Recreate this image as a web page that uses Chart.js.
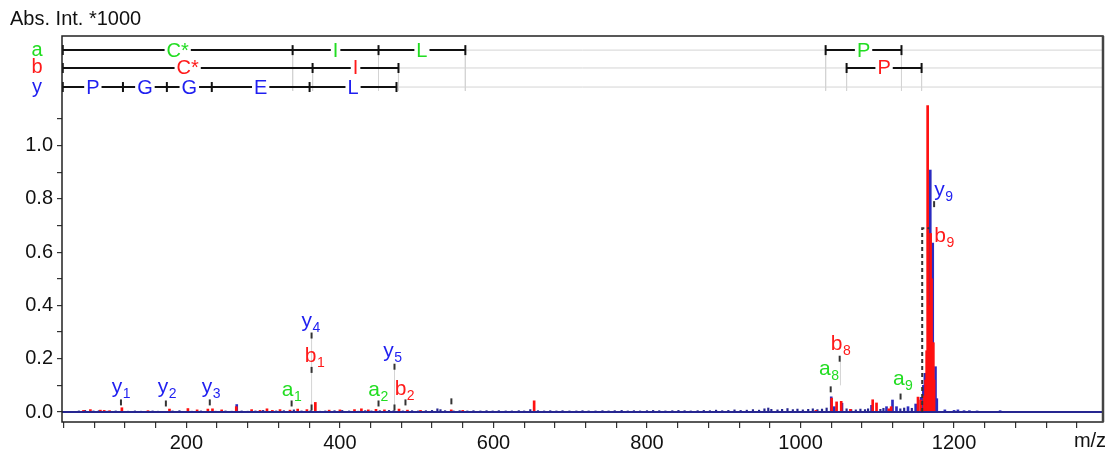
<!DOCTYPE html>
<html>
<head>
<meta charset="utf-8">
<script src="https://cdn.jsdelivr.net/npm/chart.js@4.4.0/dist/chart.umd.min.js"></script>
<style>
html, body { margin: 0; padding: 0; background: #fff; }
</style>
</head>
<body>
<canvas id="spectrum" width="1110" height="450"></canvas>
<script>
// axis ticks
var xTicks = [40, 80, 120, 160, 200, 240, 280, 320, 360, 400, 440, 480, 520, 560, 600, 640, 680, 720,
    760, 800, 840, 880, 920, 960, 1000, 1040, 1080, 1120, 1160, 1200, 1240, 1280, 1320, 1360];
var xTickLabels = ["200", "400", "600", "800", "1000", "1200"];
var yTicks = [0, 0.1, 0.2, 0.3, 0.4, 0.5, 0.6, 0.7, 0.8, 0.9, 1.0, 1.1];
var yTickLabels = ["0.0", "0.2", "0.4", "0.6", "0.8", "1.0"];

// peak list (red sticks) [m/z, intensity]
var redPeaks = [
    [66, 0.006], [75, 0.009], [88, 0.007], [93, 0.006], [100, 0.005], [116, 0.016], [150, 0.005],
    [178, 0.011], [202, 0.013], [214, 0.008], [228, 0.011], [234, 0.012], [246, 0.008], [265, 0.02],
    [285, 0.009], [296, 0.006], [305, 0.012], [312, 0.006], [322, 0.009], [335, 0.007], [345, 0.011],
    [357, 0.009], [368, 0.036], [386, 0.007], [400, 0.008], [419, 0.009], [428, 0.012], [437, 0.008],
    [447, 0.01], [458, 0.008], [477, 0.011], [488, 0.007], [505, 0.006], [545, 0.008], [560, 0.006],
    [653, 0.042], [1020, 0.006], [1040.5, 0.052], [1047, 0.038], [1053, 0.04], [1065, 0.01],
    [1094, 0.046], [1099, 0.034], [1115, 0.012], [1118, 0.02], [1153, 0.056], [1156.5, 0.045],
    [1161, 0.06], [1162.8, 0.12], [1164.3, 0.23], [1165.6, 1.15], [1167.8, 0.4], [1169.4, 0.67],
    [1170.6, 0.5], [1171.8, 0.26], [1173, 0.26], [1174, 0.12]
];

// profile maxima (blue)
var bluePeaks = [
    [265.6, 0.028], [1040, 0.057], [1044, 0.02], [1054, 0.033], [1092.5, 0.025], [1112, 0.02],
    [1119.8, 0.045], [1125, 0.02], [1140, 0.02], [1150, 0.03], [1157, 0.055], [1160, 0.1],
    [1162, 0.145], [1166.7, 0.6], [1169, 0.908], [1172.2, 0.634], [1175.8, 0.17], [1177.5, 0.05],
    [1188, 0.008], [1200, 0.006], [1205, 0.008], [1213, 0.005], [1220, 0.005], [1230, 0.004], [1260, 0.005]
];

// baseline noise of the profile
var noisePeaks = [
    [60, 0.004], [68, 0.006], [79, 0.004], [86, 0.005], [97, 0.003], [108, 0.004], [124, 0.003],
    [133, 0.004], [141, 0.003], [156, 0.004], [163, 0.003], [182, 0.004], [191, 0.005], [207, 0.003],
    [219, 0.004], [238, 0.003], [251, 0.004], [259, 0.003], [272, 0.004], [280, 0.003], [290, 0.004],
    [300, 0.006], [317, 0.004], [327, 0.005], [340, 0.008], [350, 0.004], [362, 0.005], [374, 0.003],
    [381, 0.004], [393, 0.005], [403, 0.006], [412, 0.004], [424, 0.003], [433, 0.005], [441, 0.004],
    [452, 0.005], [464, 0.006], [470, 0.005], [482, 0.004], [494, 0.005], [502, 0.004], [512, 0.005],
    [520, 0.006], [527, 0.012], [531, 0.009], [537, 0.005], [548, 0.004], [556, 0.005], [566, 0.004],
    [574, 0.005], [583, 0.004], [591, 0.005], [599, 0.004], [607, 0.005], [616, 0.004], [624, 0.004],
    [633, 0.005], [640, 0.004], [648, 0.009], [658, 0.005], [666, 0.004], [674, 0.005], [682, 0.004],
    [690, 0.005], [699, 0.004], [708, 0.004], [716, 0.005], [724, 0.004], [733, 0.004], [742, 0.005],
    [750, 0.004], [758, 0.005], [767, 0.006], [775, 0.004], [783, 0.005], [791, 0.004], [800, 0.005],
    [808, 0.006], [816, 0.005], [824, 0.004], [833, 0.005], [841, 0.006], [849, 0.005], [857, 0.004],
    [866, 0.005], [874, 0.006], [882, 0.005], [890, 0.007], [898, 0.005], [906, 0.006], [914, 0.008],
    [922, 0.006], [930, 0.007], [938, 0.009], [946, 0.007], [953, 0.012], [958, 0.015], [962, 0.01],
    [970, 0.008], [976, 0.01], [983, 0.013], [990, 0.009], [996, 0.011], [1003, 0.008], [1010, 0.01],
    [1016, 0.012], [1022, 0.009], [1028, 0.011], [1034, 0.015], [1060, 0.012], [1066, 0.009],
    [1072, 0.008], [1078, 0.011], [1084, 0.009], [1088, 0.012], [1104, 0.01], [1108, 0.014],
    [1130, 0.012], [1135, 0.015], [1145, 0.014], [1152, 0.02]
];

// ion labels: [series, number, m/z, label height]
var ionLabels = [
    ["y", "1", 114.8, 0.071], ["y", "2", 174.6, 0.071], ["y", "3", 231.8, 0.071],
    ["a", "1", 337, 0.06], ["b", "1", 367, 0.188], ["y", "4", 362, 0.319],
    ["a", "2", 449.7, 0.06], ["y", "5", 468.5, 0.206], ["b", "2", 484, 0.064],
    ["a", "8", 1036.7, 0.139], ["b", "8", 1052, 0.233], ["a", "9", 1133, 0.101],
    ["y", "9", 1186, 0.81], ["b", "9", 1187, 0.638]
];
// small black marks above matched peaks [m/z, height]
var ionMarks = [
    [114.8, 0.036], [173.3, 0.032], [230.5, 0.036], [337.1, 0.032], [363.1, 0.158], [363.1, 0.017],
    [363.1, 0.287], [450.3, 0.032], [471.1, 0.17], [471.1, 0.017], [485.4, 0.036], [545.2, 0.04],
    [1039.3, 0.085], [1051, 0.2], [1130.3, 0.058], [1174, 0.78]
];
// thin grey connectors [m/z, from, to]
var ionGuides = [[363.1, 0, 0.278], [471.1, 0, 0.161], [1052, 0.1, 0.19]];
// dashed link of b9
var b9Link = [[1158.5, 0], [1158.5, 0.69], [1168, 0.69]];

// sequence ladders: [from m/z, to m/z, residue]
var ladderA = [[39, 338.4, "C*"], [338.4, 450.3, "I"], [450.3, 563.4, "L"], [1032.7, 1131.5, "P"]];
var ladderB = [[39, 364.4, "C*"], [364.4, 476.3, "I"], [1060, 1157.7, "P"]];
var ladderY = [[39, 117.4, "P"], [117.4, 174.6, "G"], [174.6, 233.1, "G"], [233.1, 360.5, "E"], [360.5, 473.7, "L"]];

var ROW_A = 1.358, ROW_B = 1.291, ROW_Y = 1.2195, GUIDE_END = 1.205;
var X_MIN = 38, X_MAX = 1394, Y_MIN = -0.0375, Y_MAX = 1.411;
var COL_A = "#22dd22", COL_B = "#ff1a1a", COL_Y = "#1f1ff0", NAVY = "#262690";
var FONT = "'Liberation Sans', Arial, sans-serif";

function xy(list) {
    return list.map(function(p) { return { x: p[0], y: p[1] }; });
}

function ladderPoints(segs, row) {
    var pts = [], prevEnd = null;
    segs.forEach(function(s) {
        if (prevEnd !== null && s[0] !== prevEnd) pts.push({ x: (prevEnd + s[0]) / 2, y: null });
        if (prevEnd === null || s[0] !== prevEnd) pts.push({ x: s[0], y: row });
        pts.push({ x: s[1], y: row });
        prevEnd = s[1];
    });
    return pts;
}

// light grey lines of the ladder area and label connectors
var greyPts = [];
[[ROW_A, ladderA], [ROW_B, ladderB], [ROW_Y, ladderY]].forEach(function(r) {
    greyPts.push({ x: X_MIN, y: r[0] }, { x: X_MAX, y: r[0] }, { x: X_MAX, y: null });
    r[1].forEach(function(s) {
        [s[0], s[1]].forEach(function(v) {
            if (v > X_MIN + 5) greyPts.push({ x: v, y: r[0] }, { x: v, y: GUIDE_END }, { x: v, y: null });
        });
    });
});
ionGuides.forEach(function(g) {
    greyPts.push({ x: g[0], y: g[1] }, { x: g[0], y: g[2] }, { x: g[0], y: null });
});

function ladderSet(segs, row) {
    return {
        type: "line", data: ladderPoints(segs, row), borderColor: "#111", borderWidth: 2,
        spanGaps: false, pointStyle: "line", pointRotation: 90, pointRadius: 5,
        pointBorderWidth: 2, pointBorderColor: "#111", order: 1
    };
}

var annotate = {
    id: "annotate",
    afterDatasetsDraw: function(chart) {
        var ctx = chart.ctx, xs = chart.scales.x, ys = chart.scales.y, ca = chart.chartArea;
        ctx.save();
        // frame
        ctx.strokeStyle = "#222";
        ctx.lineWidth = 1.5;
        ctx.strokeRect(ca.left, ca.top, ca.right - ca.left, ca.bottom - ca.top);
        ctx.strokeStyle = "#444";
        ctx.lineWidth = 2.5;
        ctx.beginPath();
        ctx.moveTo(ca.right, ca.top);
        ctx.lineTo(ca.right, ca.bottom);
        ctx.stroke();

        // residue letters on the ladders
        ctx.font = "20px " + FONT;
        ctx.textAlign = "center";
        ctx.textBaseline = "middle";
        [[ladderA, ROW_A, COL_A], [ladderB, ROW_B, COL_B], [ladderY, ROW_Y, COL_Y]].forEach(function(l) {
            var py = ys.getPixelForValue(l[1]);
            l[0].forEach(function(s) {
                var px = xs.getPixelForValue((s[0] + s[1]) / 2);
                var w = ctx.measureText(s[2]).width;
                ctx.fillStyle = "#fff";
                ctx.fillRect(px - w / 2 - 2, py - 8, w + 4, 16);
                ctx.fillStyle = l[2];
                ctx.fillText(s[2], px, py + 1);
            });
        });

        // ion labels
        var colors = { a: COL_A, b: COL_B, y: COL_Y };
        ctx.textAlign = "left";
        ctx.textBaseline = "alphabetic";
        ionLabels.forEach(function(l) {
            ctx.font = "21px " + FONT;
            var wm = ctx.measureText(l[0]).width;
            ctx.font = "14px " + FONT;
            var ws = ctx.measureText(l[1]).width;
            var x0 = xs.getPixelForValue(l[2]) - (wm + ws) / 2;
            var y0 = ys.getPixelForValue(l[3]);
            ctx.fillStyle = colors[l[0]];
            ctx.font = "21px " + FONT;
            ctx.fillText(l[0], x0, y0);
            ctx.font = "14px " + FONT;
            ctx.fillText(l[1], x0 + wm + 0.5, y0 + 5);
        });
        ctx.restore();
    },
    afterDraw: function(chart) {
        var ctx = chart.ctx;
        ctx.save();
        ctx.fillStyle = "#111";
        ctx.font = "20px " + FONT;
        ctx.textBaseline = "middle";
        ctx.textAlign = "left";
        ctx.fillText("Abs. Int. *1000", 10, 19);
        ctx.textAlign = "center";
        ctx.fillText("m/z", 1090, 441);
        var ys = chart.scales.y;
        [["a", ROW_A, COL_A], ["b", ROW_B, COL_B], ["y", ROW_Y, COL_Y]].forEach(function(r) {
            ctx.fillStyle = r[2];
            ctx.fillText(r[0], 37, ys.getPixelForValue(r[1]));
        });
        ctx.restore();
    }
};

var chart = new Chart(document.getElementById("spectrum").getContext("2d"), {
    type: "bar",
    data: {
        datasets: [
            ladderSet(ladderA, ROW_A),
            ladderSet(ladderB, ROW_B),
            ladderSet(ladderY, ROW_Y),
            {
                type: "scatter", data: xy(ionMarks), showLine: false, pointStyle: "line",
                pointRotation: 90, pointRadius: 3, pointBorderWidth: 2, pointBorderColor: "#333", order: 2
            },
            {
                type: "line", data: xy(b9Link), borderColor: "#333", borderWidth: 2,
                borderDash: [4, 3], pointRadius: 0, order: 2
            },
            {
                type: "line", data: [{ x: X_MIN, y: 0 }, { x: X_MAX, y: 0 }], borderColor: NAVY,
                borderWidth: 2, pointRadius: 0, order: 3
            },
            {
                data: xy(redPeaks), backgroundColor: "#ff1010", barThickness: 2, grouped: false, order: 4
            },
            {
                data: xy(bluePeaks), backgroundColor: "#2b2bc0", barThickness: 2, grouped: false, order: 5
            },
            {
                data: xy(noisePeaks), backgroundColor: NAVY, barThickness: 1.5, grouped: false, order: 6
            },
            {
                type: "line", data: greyPts, borderColor: "#d4d4d4", borderWidth: 1, spanGaps: false,
                pointRadius: 0, order: 7
            }
        ]
    },
    options: {
        responsive: false,
        animation: false,
        devicePixelRatio: 1,
        layout: { padding: { top: 36, right: 5, left: 0, bottom: 0 } },
        plugins: { legend: { display: false }, tooltip: { enabled: false } },
        scales: {
            x: {
                type: "linear", min: X_MIN, max: X_MAX, offset: false,
                afterBuildTicks: function(s) { s.ticks = xTicks.map(function(v) { return { value: v }; }); },
                afterFit: function(s) { s.height = 28; },
                grid: { offset: false, drawOnChartArea: false, drawTicks: true, tickLength: 6, color: "#333", lineWidth: 1.2 },
                border: { display: false },
                ticks: {
                    autoSkip: false, maxRotation: 0, padding: 3, color: "#111",
                    font: { family: FONT, size: 20 },
                    callback: function(v) {
                        var t = String(v);
                        return xTickLabels.indexOf(t) >= 0 ? t : "";
                    }
                }
            },
            y: {
                type: "linear", min: Y_MIN, max: Y_MAX,
                afterBuildTicks: function(s) { s.ticks = yTicks.map(function(v) { return { value: v }; }); },
                afterFit: function(s) { s.width = 62; },
                grid: { drawOnChartArea: false, drawTicks: true, tickLength: 5, color: "#333", lineWidth: 1.2 },
                border: { display: false },
                ticks: {
                    autoSkip: false, padding: 4, color: "#111",
                    font: { family: FONT, size: 20 },
                    callback: function(v) {
                        var t = v.toFixed(1);
                        return yTickLabels.indexOf(t) >= 0 ? t : "";
                    }
                }
            }
        }
    },
    plugins: [annotate]
});
</script>
</body>
</html>
